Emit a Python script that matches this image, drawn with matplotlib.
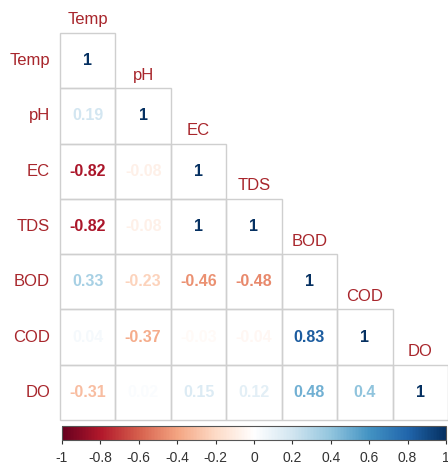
import matplotlib
matplotlib.use("Agg")
import matplotlib.pyplot as plt
from matplotlib.colors import LinearSegmentedColormap, Normalize
from matplotlib.patches import Rectangle
import matplotlib.colorbar as mcolorbar

plt.rcParams['font.family'] = ['Liberation Sans', 'DejaVu Sans']

# variables and lower-triangle correlations (row by row)
names = ["Temp", "pH", "EC", "TDS", "BOD", "COD", "DO"]
r_temp = [1]
r_ph = [0.19, 1]
r_ec = [-0.82, -0.08, 1]
r_tds = [-0.82, -0.08, 1, 1]
r_bod = [0.33, -0.23, -0.46, -0.48, 1]
r_cod = [0.04, -0.37, -0.03, -0.04, 0.83, 1]
r_do = [-0.31, 0.02, 0.15, 0.12, 0.48, 0.4, 1]
rows = [r_temp, r_ph, r_ec, r_tds, r_bod, r_cod, r_do]

cbar_ticks = [-1, -0.8, -0.6, -0.4, -0.2, 0, 0.2, 0.4, 0.6, 0.8, 1]

# corrplot style RdBu
cmap = LinearSegmentedColormap.from_list("rdbu2", [
    "#67001F", "#B2182B", "#D6604D", "#F4A582", "#FDDBC7", "#FFFFFF",
    "#D1E5F0", "#92C5DE", "#4393C3", "#2166AC", "#053061"])
norm = Normalize(-1, 1)
label_col = "#a8262c"
grid_col = "#cfcfcf"

fig = plt.figure(figsize=(4.48, 4.66), dpi=100)
ax = fig.add_axes([60/448, 46/466, 388/448, 387/466])
n = len(names)
ax.set_xlim(0, n)
ax.set_ylim(n, 0)
ax.axis("off")

for i, row in enumerate(rows):
    for j, v in enumerate(row):
        ax.add_patch(Rectangle((j, i), 1, 1, fill=False, edgecolor=grid_col,
                               linewidth=1, clip_on=False))
        txt = f"{round(v, 2):g}"
        ax.text(j + 0.5, i + 0.5, txt, ha="center", va="center",
                fontsize=11.5, fontweight="bold", color=cmap(norm(v)))

for i, name in enumerate(names):
    ax.text(-0.18, i + 0.5, name, ha="right", va="center",
            fontsize=12, color=label_col, clip_on=False)
    ax.text(i + 0.5, i - 0.1, name, ha="center", va="bottom",
            fontsize=12, color=label_col, clip_on=False)

cax = fig.add_axes([62/448, 26/466, 384/448, 14/466])
cb = mcolorbar.ColorbarBase(cax, cmap=cmap, norm=norm, orientation="horizontal",
                            ticks=cbar_ticks)
cb.outline.set_edgecolor("#555555")
cb.outline.set_linewidth(0.8)
cb.set_ticklabels([f"{t:g}" for t in cbar_ticks])
cax.tick_params(length=3, width=0.8, labelsize=10, colors="#333333", pad=5)

fig.savefig("out.png", dpi=100)
